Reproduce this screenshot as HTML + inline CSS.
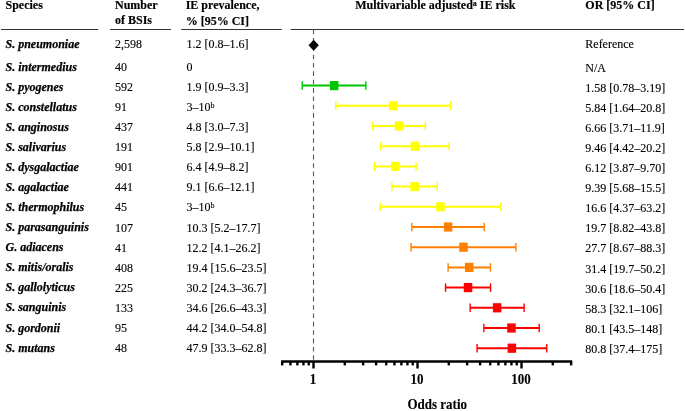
<!DOCTYPE html>
<html><head><meta charset="utf-8"><title>Forest plot</title>
<style>
html,body{margin:0;padding:0;background:#fff;}
body{width:685px;height:411px;overflow:hidden;}
svg{display:block;will-change:transform;}
text{font-family:"Liberation Serif",serif;font-size:12px;fill:#000;stroke:#000;stroke-width:0.12px;}
.b{font-weight:bold;stroke:#000;stroke-width:0.15px;}
.bi{font-weight:bold;font-style:italic;stroke:#000;stroke-width:0.25px;}
.ax{font-weight:bold;font-size:13px;}
.sup{font-size:8px;}
</style></head><body>
<svg width="685" height="411" viewBox="0 0 685 411">
<rect width="685" height="411" fill="#fff"/>
<text class="b" x="5.5" y="8.5">Species</text>
<text class="b" x="115.0" y="8.5">Number</text>
<text class="b" x="115.0" y="23.6">of BSIs</text>
<text class="b" x="185.7" y="8.5">IE prevalence,</text>
<text class="b" x="185.7" y="24.6">% [95% CI]</text>
<text class="b" x="355.2" y="8.5">Multivariable adjusted<tspan class="sup" dy="-2.7">a</tspan><tspan dy="2.7"> IE risk</tspan></text>
<text class="b" x="585.3" y="8.5">OR [95% CI]</text>
<line x1="1" y1="29.5" x2="98.3" y2="29.5" stroke="#333" stroke-width="1"/>
<line x1="110" y1="29.5" x2="171" y2="29.5" stroke="#333" stroke-width="1"/>
<line x1="181.2" y1="29.5" x2="281.8" y2="29.5" stroke="#333" stroke-width="1"/>
<line x1="290.6" y1="29.5" x2="684" y2="29.5" stroke="#333" stroke-width="1"/>
<line x1="313.5" y1="29.6" x2="313.5" y2="360.5" stroke="#565656" stroke-width="1.1" stroke-dasharray="4.6 3.75"/>
<text class="bi" x="5.5" y="47.6">S. pneumoniae</text><text x="115.0" y="47.8">2,598</text><text x="186.5" y="47.8">1.2 [0.8–1.6]</text><text x="585.3" y="48.0">Reference</text>
<text class="bi" x="5.5" y="70.5">S. intermedius</text><text x="115.0" y="70.9">40</text><text x="186.5" y="70.9">0</text><text x="585.3" y="71.7">N/A</text>
<text class="bi" x="5.5" y="90.58">S. pyogenes</text><text x="115.0" y="90.98">592</text><text x="186.5" y="90.98">1.9 [0.9–3.3]</text><text x="585.3" y="91.78">1.58 [0.78–3.19]</text>
<g stroke="#00c400" fill="#00c400"><line x1="302.28" y1="85.6" x2="365.89" y2="85.6" stroke-width="2.0"/><line x1="302.28" y1="81.35" x2="302.28" y2="89.85" stroke-width="1.4"/><line x1="365.89" y1="81.35" x2="365.89" y2="89.85" stroke-width="1.4"/><rect x="329.91" y="81.0" width="8.5" height="9.2" stroke="none"/></g>
<text class="bi" x="5.5" y="110.66">S. constellatus</text><text x="115.0" y="111.06">91</text><text x="186.5" y="111.06">3–10<tspan class='sup' dy='-3.2'>b</tspan></text><text x="585.3" y="111.86">5.84 [1.64–20.8]</text>
<g stroke="#ffff00" fill="#ffff00"><line x1="335.84" y1="105.8" x2="450.58" y2="105.8" stroke-width="2.0"/><line x1="335.84" y1="101.55" x2="335.84" y2="110.05" stroke-width="1.4"/><line x1="450.58" y1="101.55" x2="450.58" y2="110.05" stroke-width="1.4"/><rect x="388.96" y="101.2" width="8.5" height="9.2" stroke="none"/></g>
<text class="bi" x="5.5" y="130.74">S. anginosus</text><text x="115.0" y="131.14">437</text><text x="186.5" y="131.14">4.8 [3.0–7.3]</text><text x="585.3" y="131.94">6.66 [3.71–11.9]</text>
<g stroke="#ffff00" fill="#ffff00"><line x1="372.71" y1="126.0" x2="425.36" y2="126.0" stroke-width="2.0"/><line x1="372.71" y1="121.75" x2="372.71" y2="130.25" stroke-width="1.4"/><line x1="425.36" y1="121.75" x2="425.36" y2="130.25" stroke-width="1.4"/><rect x="394.89" y="121.4" width="8.5" height="9.2" stroke="none"/></g>
<text class="bi" x="5.5" y="150.82">S. salivarius</text><text x="115.0" y="151.22">191</text><text x="186.5" y="151.22">5.8 [2.9–10.1]</text><text x="585.3" y="152.02">9.46 [4.42–20.2]</text>
<g stroke="#ffff00" fill="#ffff00"><line x1="380.62" y1="146.2" x2="449.26" y2="146.2" stroke-width="2.0"/><line x1="380.62" y1="141.95" x2="380.62" y2="150.45" stroke-width="1.4"/><line x1="449.26" y1="141.95" x2="449.26" y2="150.45" stroke-width="1.4"/><rect x="410.74" y="141.6" width="8.5" height="9.2" stroke="none"/></g>
<text class="bi" x="5.5" y="170.9">S. dysgalactiae</text><text x="115.0" y="171.3">901</text><text x="186.5" y="171.3">6.4 [4.9–8.2]</text><text x="585.3" y="172.1">6.12 [3.87–9.70]</text>
<g stroke="#ffff00" fill="#ffff00"><line x1="374.62" y1="166.4" x2="416.12" y2="166.4" stroke-width="2.0"/><line x1="374.62" y1="162.15" x2="374.62" y2="170.65" stroke-width="1.4"/><line x1="416.12" y1="162.15" x2="416.12" y2="170.65" stroke-width="1.4"/><rect x="391.07" y="161.8" width="8.5" height="9.2" stroke="none"/></g>
<text class="bi" x="5.5" y="190.98">S. agalactiae</text><text x="115.0" y="191.38">441</text><text x="186.5" y="191.38">9.1 [6.6–12.1]</text><text x="585.3" y="192.18">9.39 [5.68–15.5]</text>
<g stroke="#ffff00" fill="#ffff00"><line x1="391.95" y1="186.6" x2="437.29" y2="186.6" stroke-width="2.0"/><line x1="391.95" y1="182.35" x2="391.95" y2="190.85" stroke-width="1.4"/><line x1="437.29" y1="182.35" x2="437.29" y2="190.85" stroke-width="1.4"/><rect x="410.41" y="182.0" width="8.5" height="9.2" stroke="none"/></g>
<text class="bi" x="5.5" y="211.06">S. thermophilus</text><text x="115.0" y="211.46">45</text><text x="186.5" y="211.46">3–10<tspan class='sup' dy='-3.2'>b</tspan></text><text x="585.3" y="212.26">16.6 [4.37–63.2]</text>
<g stroke="#ffff00" fill="#ffff00"><line x1="380.11" y1="206.8" x2="500.77" y2="206.8" stroke-width="2.0"/><line x1="380.11" y1="202.55" x2="380.11" y2="211.05" stroke-width="1.4"/><line x1="500.77" y1="202.55" x2="500.77" y2="211.05" stroke-width="1.4"/><rect x="436.14" y="202.2" width="8.5" height="9.2" stroke="none"/></g>
<text class="bi" x="5.5" y="231.14">S. parasanguinis</text><text x="115.0" y="231.54">107</text><text x="186.5" y="231.54">10.3 [5.2–17.7]</text><text x="585.3" y="232.34">19.7 [8.82–43.8]</text>
<g stroke="#ff8000" fill="#ff8000"><line x1="411.83" y1="227.0" x2="484.21" y2="227.0" stroke-width="2.0"/><line x1="411.83" y1="222.75" x2="411.83" y2="231.25" stroke-width="1.4"/><line x1="484.21" y1="222.75" x2="484.21" y2="231.25" stroke-width="1.4"/><rect x="443.87" y="222.4" width="8.5" height="9.2" stroke="none"/></g>
<text class="bi" x="5.5" y="251.22">G. adiacens</text><text x="115.0" y="251.62">41</text><text x="186.5" y="251.62">12.2 [4.1–26.2]</text><text x="585.3" y="252.42">27.7 [8.67–88.3]</text>
<g stroke="#ff8000" fill="#ff8000"><line x1="411.05" y1="247.2" x2="515.88" y2="247.2" stroke-width="2.0"/><line x1="411.05" y1="242.95" x2="411.05" y2="251.45" stroke-width="1.4"/><line x1="515.88" y1="242.95" x2="515.88" y2="251.45" stroke-width="1.4"/><rect x="459.27" y="242.6" width="8.5" height="9.2" stroke="none"/></g>
<text class="bi" x="5.5" y="271.3">S. mitis/oralis</text><text x="115.0" y="271.7">408</text><text x="186.5" y="271.7">19.4 [15.6–23.5]</text><text x="585.3" y="272.5">31.4 [19.7–50.2]</text>
<g stroke="#ff8000" fill="#ff8000"><line x1="448.12" y1="267.4" x2="490.37" y2="267.4" stroke-width="2.0"/><line x1="448.12" y1="263.15" x2="448.12" y2="271.65" stroke-width="1.4"/><line x1="490.37" y1="263.15" x2="490.37" y2="271.65" stroke-width="1.4"/><rect x="464.93" y="262.8" width="8.5" height="9.2" stroke="none"/></g>
<text class="bi" x="5.5" y="291.38">S. gallolyticus</text><text x="115.0" y="291.78">225</text><text x="186.5" y="291.78">30.2 [24.3–36.7]</text><text x="585.3" y="292.58">30.6 [18.6–50.4]</text>
<g stroke="#ff0000" fill="#ff0000"><line x1="445.53" y1="287.6" x2="490.55" y2="287.6" stroke-width="2.0"/><line x1="445.53" y1="283.35" x2="445.53" y2="291.85" stroke-width="1.4"/><line x1="490.55" y1="283.35" x2="490.55" y2="291.85" stroke-width="1.4"/><rect x="463.77" y="283.0" width="8.5" height="9.2" stroke="none"/></g>
<text class="bi" x="5.5" y="311.46">S. sanguinis</text><text x="115.0" y="311.86">133</text><text x="186.5" y="311.86">34.6 [26.6–43.3]</text><text x="585.3" y="312.66">58.3 [32.1–106]</text>
<g stroke="#ff0000" fill="#ff0000"><line x1="470.18" y1="307.8" x2="524.13" y2="307.8" stroke-width="2.0"/><line x1="470.18" y1="303.55" x2="470.18" y2="312.05" stroke-width="1.4"/><line x1="524.13" y1="303.55" x2="524.13" y2="312.05" stroke-width="1.4"/><rect x="492.88" y="303.2" width="8.5" height="9.2" stroke="none"/></g>
<text class="bi" x="5.5" y="331.54">S. gordonii</text><text x="115.0" y="331.94">95</text><text x="186.5" y="331.94">44.2 [34.0–54.8]</text><text x="585.3" y="332.74">80.1 [43.5–148]</text>
<g stroke="#ff0000" fill="#ff0000"><line x1="483.9" y1="328.0" x2="539.21" y2="328.0" stroke-width="2.0"/><line x1="483.9" y1="323.75" x2="483.9" y2="332.25" stroke-width="1.4"/><line x1="539.21" y1="323.75" x2="539.21" y2="332.25" stroke-width="1.4"/><rect x="507.23" y="323.4" width="8.5" height="9.2" stroke="none"/></g>
<text class="bi" x="5.5" y="351.62">S. mutans</text><text x="115.0" y="352.02">48</text><text x="186.5" y="352.02">47.9 [33.3–62.8]</text><text x="585.3" y="352.82">80.8 [37.4–175]</text>
<g stroke="#ff0000" fill="#ff0000"><line x1="477.08" y1="348.2" x2="546.78" y2="348.2" stroke-width="2.0"/><line x1="477.08" y1="343.95" x2="477.08" y2="352.45" stroke-width="1.4"/><line x1="546.78" y1="343.95" x2="546.78" y2="352.45" stroke-width="1.4"/><rect x="507.62" y="343.6" width="8.5" height="9.2" stroke="none"/></g>
<path d="M313.65 39.7 L318.8 45.25 L313.65 50.8 L308.5 45.25 Z" fill="#000"/>
<line x1="281.19" y1="361.5" x2="572.12" y2="361.5" stroke="#000" stroke-width="2.4"/>
<line x1="313.5" y1="361" x2="313.5" y2="368.5" stroke="#000" stroke-width="2.4"/><line x1="417.5" y1="361" x2="417.5" y2="368.5" stroke="#000" stroke-width="2.4"/><line x1="521.5" y1="361" x2="521.5" y2="368.5" stroke="#000" stroke-width="2.4"/><line x1="282.19" y1="361" x2="282.19" y2="365.4" stroke="#000" stroke-width="2.4"/><line x1="290.43" y1="361" x2="290.43" y2="365.4" stroke="#000" stroke-width="2.4"/><line x1="297.39" y1="361" x2="297.39" y2="365.4" stroke="#000" stroke-width="2.4"/><line x1="303.42" y1="361" x2="303.42" y2="365.4" stroke="#000" stroke-width="2.4"/><line x1="308.74" y1="361" x2="308.74" y2="365.4" stroke="#000" stroke-width="2.4"/><line x1="344.81" y1="361" x2="344.81" y2="365.4" stroke="#000" stroke-width="2.4"/><line x1="363.12" y1="361" x2="363.12" y2="365.4" stroke="#000" stroke-width="2.4"/><line x1="376.11" y1="361" x2="376.11" y2="365.4" stroke="#000" stroke-width="2.4"/><line x1="386.19" y1="361" x2="386.19" y2="365.4" stroke="#000" stroke-width="2.4"/><line x1="394.43" y1="361" x2="394.43" y2="365.4" stroke="#000" stroke-width="2.4"/><line x1="401.39" y1="361" x2="401.39" y2="365.4" stroke="#000" stroke-width="2.4"/><line x1="407.42" y1="361" x2="407.42" y2="365.4" stroke="#000" stroke-width="2.4"/><line x1="412.74" y1="361" x2="412.74" y2="365.4" stroke="#000" stroke-width="2.4"/><line x1="448.81" y1="361" x2="448.81" y2="365.4" stroke="#000" stroke-width="2.4"/><line x1="467.12" y1="361" x2="467.12" y2="365.4" stroke="#000" stroke-width="2.4"/><line x1="480.11" y1="361" x2="480.11" y2="365.4" stroke="#000" stroke-width="2.4"/><line x1="490.19" y1="361" x2="490.19" y2="365.4" stroke="#000" stroke-width="2.4"/><line x1="498.43" y1="361" x2="498.43" y2="365.4" stroke="#000" stroke-width="2.4"/><line x1="505.39" y1="361" x2="505.39" y2="365.4" stroke="#000" stroke-width="2.4"/><line x1="511.42" y1="361" x2="511.42" y2="365.4" stroke="#000" stroke-width="2.4"/><line x1="516.74" y1="361" x2="516.74" y2="365.4" stroke="#000" stroke-width="2.4"/><line x1="552.81" y1="361" x2="552.81" y2="365.4" stroke="#000" stroke-width="2.4"/><line x1="571.12" y1="361" x2="571.12" y2="365.4" stroke="#000" stroke-width="2.4"/>
<text class="ax" text-anchor="middle" transform="translate(313.0 383.8) scale(1 1.17)">1</text><text class="ax" text-anchor="middle" transform="translate(417.0 383.8) scale(1 1.17)">10</text><text class="ax" text-anchor="middle" transform="translate(521.0 383.8) scale(1 1.17)">100</text>
<text class="ax" transform="translate(407.5 409.1) scale(1 1.2)">Odds ratio</text>
</svg>
</body></html>
